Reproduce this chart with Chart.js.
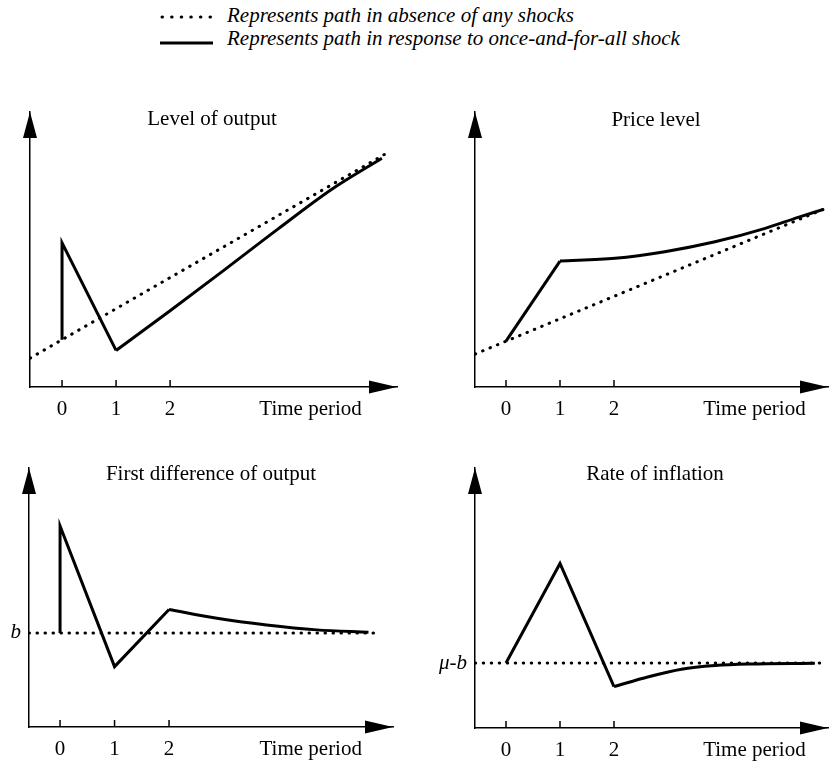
<!DOCTYPE html>
<html>
<head>
<meta charset="utf-8">
<script src="https://cdn.jsdelivr.net/npm/chart.js@4.4.1/dist/chart.umd.min.js"></script>
<style>
  body { margin: 0; background: #fff; width: 830px; height: 761px; position: relative; overflow: hidden; font-family: "Liberation Serif", "Times New Roman", serif; color: #000; }
  .panel { position: absolute; }
  .keyText { position: absolute; left: 227px; font-size: 21px; line-height: 21px; font-style: italic; white-space: nowrap; }
  .keyLine { position: absolute; left: 0; top: 0; }
</style>
</head>
<body>
<svg class="keyLine" width="230" height="60">
  <line x1="162" y1="17" x2="212" y2="17" stroke="#000" stroke-width="3" stroke-linecap="round" stroke-dasharray="0.5 9.1"/>
  <line x1="160" y1="43" x2="213" y2="43" stroke="#000" stroke-width="3"/>
</svg>
<div class="keyText" style="top:5px">Represents path in absence of any shocks</div>
<div class="keyText" style="top:28px">Represents path in response to once-and-for-all shock</div>

<canvas id="levelOutput" class="panel" width="415" height="320" style="left:0;top:100px"></canvas>
<canvas id="priceLevel" class="panel" width="415" height="320" style="left:415px;top:100px"></canvas>
<canvas id="diffOutput" class="panel" width="415" height="321" style="left:0;top:440px"></canvas>
<canvas id="inflation" class="panel" width="415" height="321" style="left:415px;top:440px"></canvas>

<script>
// x axis: periods 0, 1, 2 and the axis name
const timeTicks = [0, 1, 2];
const timeLabel = 'Time period';
const timeLabelAt = 4.6;

// Level of output
const outTrendX = [-0.59, 0, 5.97];
const outTrendY = [1.05, 1.72, 8.46];
const outJumpX = [0, 0, 1];
const outJumpY = [1.72, 5.24, 1.33];
const outTailX = [1, 2, 3, 4, 5, 5.92];
const outTailY = [1.33, 2.77, 4.25, 5.75, 7.2, 8.32];

// Price level
const priceTrendX = [-0.57, 5.89];
const priceTrendY = [1.2, 6.47];
const priceJumpX = [0, 1];
const priceJumpY = [1.67, 4.58];
const priceTailX = [1, 2.02, 2.94, 3.87, 4.80, 5.41, 5.88];
const priceTailY = [4.58, 4.68, 4.92, 5.28, 5.77, 6.17, 6.46];

// First difference of output
const diffLevel = 3.63;
const diffLabel = 'b';
const diffTrendX = [-0.57, 5.82];
const diffTrendY = [diffLevel, diffLevel];
const diffJumpX = [0, 0, 1, 2];
const diffJumpY = [diffLevel, 7.76, 2.33, 4.54];
const diffTailX = [2, 2.88, 3.79, 4.71, 5.66];
const diffTailY = [4.54, 4.20, 3.94, 3.75, 3.66];

// Rate of inflation
const inflLevel = 2.5;
const inflLabel = 'μ-b';
const inflTrendX = [-0.57, 5.81];
const inflTrendY = [inflLevel, inflLevel];
const inflJumpX = [0, 1, 2];
const inflJumpY = [inflLevel, 6.33, 1.59];
const inflTailX = [2, 2.64, 3.25, 3.87, 4.49, 5.72];
const inflTailY = [1.59, 1.97, 2.26, 2.40, 2.46, 2.49];

const serif = '"Liberation Serif", "Times New Roman", serif';
const pts = (xs, ys) => xs.map((x, i) => ({ x, y: ys[i] }));

// arrow heads, inward tick marks and the panel title
const axisDecor = {
  id: 'axisDecor',
  afterDraw(chart, args, opts) {
    const { ctx, chartArea: a } = chart;
    const xs = chart.scales.x;
    ctx.save();
    ctx.fillStyle = '#000';
    ctx.strokeStyle = '#000';
    ctx.beginPath();
    ctx.moveTo(a.left, a.top);
    ctx.lineTo(a.left - 7, a.top + 26);
    ctx.lineTo(a.left + 7, a.top + 26);
    ctx.closePath();
    ctx.fill();
    ctx.beginPath();
    ctx.moveTo(a.right, a.bottom);
    ctx.lineTo(a.right - 28, a.bottom - 6.5);
    ctx.lineTo(a.right - 28, a.bottom + 6.5);
    ctx.closePath();
    ctx.fill();
    ctx.lineWidth = 1.5;
    timeTicks.forEach((t) => {
      const px = xs.getPixelForValue(t);
      ctx.beginPath();
      ctx.moveTo(px, a.bottom);
      ctx.lineTo(px, a.bottom - 7);
      ctx.stroke();
    });
    ctx.font = '21px ' + serif;
    ctx.textAlign = 'center';
    ctx.textBaseline = 'alphabetic';
    ctx.fillText(opts.text, opts.x, opts.y);
    ctx.restore();
  },
};

function drawPanel(id, p) {
  new Chart(document.getElementById(id), {
    type: 'line',
    data: {
      datasets: [
        { data: pts(p.trendX, p.trendY), borderWidth: 3, borderDash: [0.5, 7.5], borderCapStyle: 'round' },
        { data: pts(p.jumpX, p.jumpY), borderWidth: 3, borderJoinStyle: 'miter' },
        { data: pts(p.tailX, p.tailY), borderWidth: 3, cubicInterpolationMode: 'monotone' },
      ],
    },
    options: {
      responsive: false,
      animation: false,
      events: [],
      layout: { padding: { left: 0, right: p.padRight, top: p.padTop, bottom: 0 } },
      elements: { point: { radius: 0 }, line: { borderColor: '#000', fill: false } },
      plugins: {
        legend: { display: false },
        tooltip: { enabled: false },
        axisDecor: p.title,
      },
      scales: {
        x: {
          type: 'linear',
          min: p.xMin,
          max: p.xMax,
          grid: { display: false, drawTicks: false },
          border: { color: '#000', width: 1.5 },
          afterBuildTicks: (s) => { s.ticks = [...timeTicks, timeLabelAt].map((v) => ({ value: v })); },
          afterFit: (s) => { s.height = p.xHeight; },
          ticks: {
            autoSkip: false,
            maxRotation: 0,
            padding: 10,
            color: '#000',
            font: { family: serif, size: 21 },
            callback: (v) => (v === timeLabelAt ? timeLabel : String(v)),
          },
        },
        y: {
          min: 0,
          max: 10,
          grid: { display: false, drawTicks: false },
          border: { color: '#000', width: 1.5 },
          afterBuildTicks: (s) => { s.ticks = p.yTick === undefined ? [] : [{ value: p.yTick }]; },
          afterFit: (s) => { s.width = p.yWidth; },
          ticks: {
            display: p.yTick !== undefined,
            padding: 8,
            color: '#000',
            font: { family: serif, size: 21, style: 'italic' },
            callback: () => p.yLabel,
          },
        },
      },
    },
    plugins: [axisDecor],
  });
}

drawPanel('levelOutput', {
  trendX: outTrendX, trendY: outTrendY, jumpX: outJumpX, jumpY: outJumpY, tailX: outTailX, tailY: outTailY,
  xMin: -0.593, xMax: 6.2, yWidth: 30, xHeight: 33, padTop: 12, padRight: 18,
  title: { text: 'Level of output', x: 212, y: 25 },
});
drawPanel('priceLevel', {
  trendX: priceTrendX, trendY: priceTrendY, jumpX: priceJumpX, jumpY: priceJumpY, tailX: priceTailX, tailY: priceTailY,
  xMin: -0.574, xMax: 5.963, yWidth: 60, xHeight: 33, padTop: 12, padRight: 2,
  title: { text: 'Price level', x: 241, y: 26 },
});
drawPanel('diffOutput', {
  trendX: diffTrendX, trendY: diffTrendY, jumpX: diffJumpX, jumpY: diffJumpY, tailX: diffTailX, tailY: diffTailY,
  xMin: -0.57, xMax: 6.11, yWidth: 29, xHeight: 34, padTop: 28, padRight: 22,
  yTick: diffLevel, yLabel: diffLabel,
  title: { text: 'First difference of output', x: 211, y: 40 },
});
drawPanel('inflation', {
  trendX: inflTrendX, trendY: inflTrendY, jumpX: inflJumpX, jumpY: inflJumpY, tailX: inflTailX, tailY: inflTailY,
  xMin: -0.574, xMax: 5.963, yWidth: 60, xHeight: 33, padTop: 28, padRight: 2,
  yTick: inflLevel, yLabel: inflLabel,
  title: { text: 'Rate of inflation', x: 240, y: 40 },
});
</script>
</body>
</html>
